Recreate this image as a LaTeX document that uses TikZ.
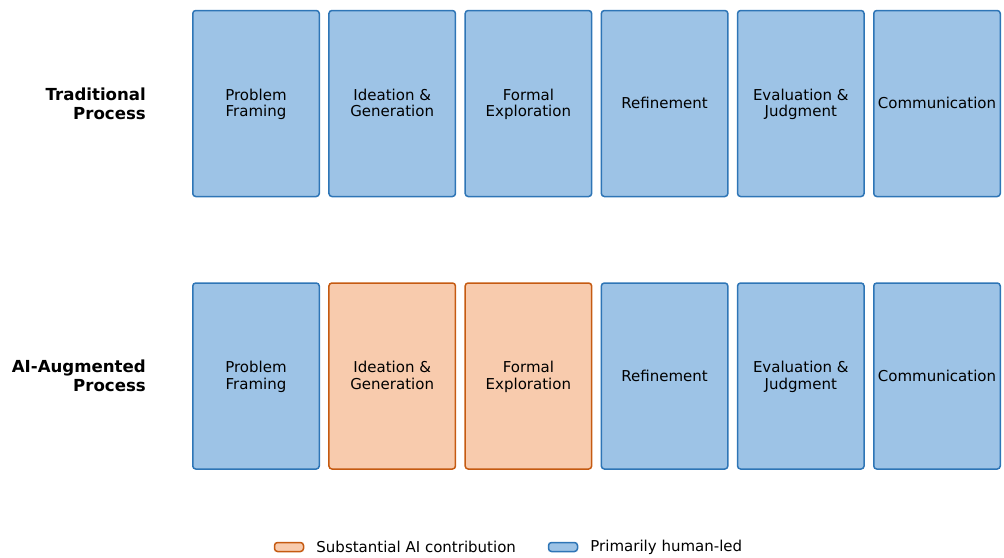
\documentclass[tikz,border=0pt]{standalone}
\usepackage{fontspec}
\setmainfont{DejaVu Sans}
\usetikzlibrary{positioning}

\definecolor{humanfill}{HTML}{9DC3E6}
\definecolor{humanedge}{HTML}{2E75B6}
\definecolor{aifill}{HTML}{F8CBAD}
\definecolor{aiedge}{HTML}{C55A11}

% line struts that keep two-line and one-line labels on the same centre
\newcommand{\ls}{\vrule width0pt height14.5pt depth4.5pt}
\newcommand{\lsrow}{\vrule width0pt height16pt depth4pt}
\newcommand{\stage}[2]{\ls#1\\[-3.5pt]\ls#2}
\newcommand{\rowname}[2]{\lsrow#1\\[-2pt]\lsrow#2}

\tikzset{
  human/.style={draw=humanedge, fill=humanfill, line width=1.5pt, rounded corners=3pt,
    minimum width=126.5pt, minimum height=186pt, align=center, inner sep=0pt,
    font=\fontsize{15}{16.5}\selectfont},
  ai/.style={human, draw=aiedge, fill=aifill},
  rowlabel/.style={anchor=east, align=right, inner sep=0pt, font=\bfseries\fontsize{16.6}{19}\selectfont},
  keybox/.style={minimum width=29pt, minimum height=9pt},
  keytext/.style={inner sep=0pt, font=\fontsize{15}{16.5}\selectfont},
}

\begin{document}
\begin{tikzpicture}[x=1pt, y=-1pt, node distance=136.2pt]
  \useasboundingbox (0,0) rectangle (1004,557);

  % traditional row
  \node[human] (t1) at (256,103.5) {\stage{Problem}{Framing}};
  \node[human] (t2) [right of=t1] {\stage{Ideation \&}{Generation}};
  \node[human] (t3) [right of=t2] {\stage{Formal}{Exploration}};
  \node[human] (t4) [right of=t3] {\ls Refinement};
  \node[human] (t5) [right of=t4] {\stage{Evaluation \&}{Judgment}};
  \node[human] (t6) [right of=t5] {\ls Communication};

  % ai-augmented row
  \node[human] (a1) at (256,376) {\stage{Problem}{Framing}};
  \node[ai]    (a2) [right of=a1] {\stage{Ideation \&}{Generation}};
  \node[ai]    (a3) [right of=a2] {\stage{Formal}{Exploration}};
  \node[human] (a4) [right of=a3] {\ls Refinement};
  \node[human] (a5) [right of=a4] {\stage{Evaluation \&}{Judgment}};
  \node[human] (a6) [right of=a5] {\ls Communication};

  \node[rowlabel] (trad) at (146,103.5) {\rowname{Traditional}{Process}};
  \node[rowlabel] (aug) at (146,376) {\rowname{AI-Augmented}{Process}};

  % legend
  \node[ai, keybox] (kai) at (289,547) {};
  \node[keytext] (kaitext) [right=12pt of kai] {Substantial AI contribution};
  \node[human, keybox] (khum) at (563,547) {};
  \node[keytext] (khumtext) [right=12pt of khum] {Primarily human-led};
\end{tikzpicture}
\end{document}
